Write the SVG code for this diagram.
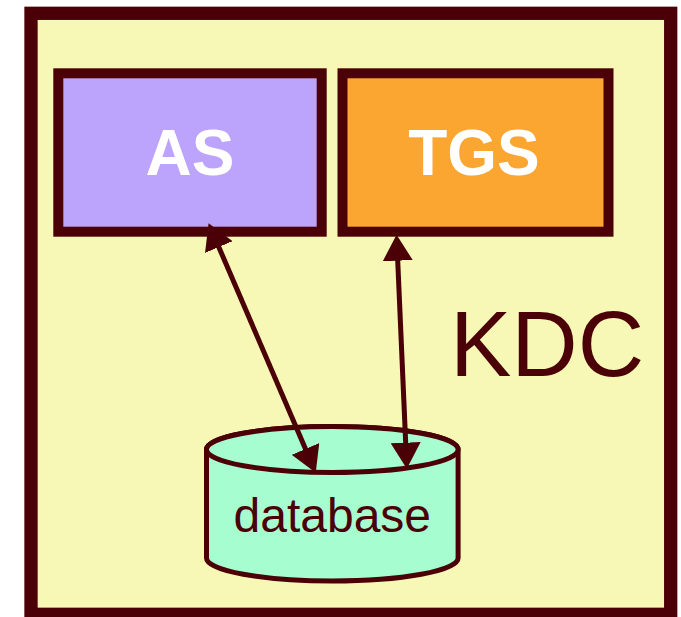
<svg xmlns="http://www.w3.org/2000/svg" width="681" height="617" viewBox="0 0 681 617">
<style>
.box{stroke:#4a0006;stroke-width:10}
.lbl{font-family:"Liberation Sans",Arial,Helvetica,sans-serif;font-weight:bold;font-size:64px;fill:#ffffff;text-anchor:middle}
.edge{stroke:#4a0006;stroke-width:5;fill:none}
</style>
<defs>
<marker id="ah" markerUnits="userSpaceOnUse" viewBox="0 0 26 30" refX="14" refY="15" markerWidth="26" markerHeight="30" orient="auto-start-reverse">
<path d="M0,0 L26,15 L0,30 z" fill="#4a0006"/>
</marker>
</defs>
<g id="kdc">
<rect x="31" y="13.3" width="639.7" height="601" fill="#f8f8b6" stroke="#4a0006" stroke-width="13.3"/>
<text x="547" y="376" font-family="Liberation Sans,Arial,Helvetica,sans-serif" font-size="92" fill="#4a0006" text-anchor="middle">KDC</text>
</g>
<g id="as">
<rect class="box" x="58.3" y="73.3" width="263.4" height="158.4" fill="#bca3fc"/>
<text class="lbl" x="190" y="175">AS</text>
</g>
<g id="tgs">
<rect class="box" x="342.5" y="73.3" width="266" height="158.4" fill="#fca632"/>
<text class="lbl" x="474" y="175">TGS</text>
</g>
<g id="database">
<path d="M206.5,449.5 A125.8,23 0 0 1 458.1,449.5 L458.1,558 A125.8,23 0 0 1 206.5,558 Z" fill="#a6fdcf" stroke="#4a0006" stroke-width="5"/>
<ellipse cx="332.3" cy="449.5" rx="125.8" ry="23" fill="#a6fdcf" stroke="#4a0006" stroke-width="5"/>
<text x="332.3" y="531.7" font-family="Liberation Sans,Arial,Helvetica,sans-serif" font-size="48" fill="#4a0006" text-anchor="middle">database</text>
</g>
<g id="connectors">
<path class="edge" d="M213.3,234.2 L311,461.8" marker-start="url(#ah)" marker-end="url(#ah)"/>
<path class="edge" d="M397.1,246.7 L406.3,456.7" marker-start="url(#ah)" marker-end="url(#ah)"/>
</g>
</svg>
